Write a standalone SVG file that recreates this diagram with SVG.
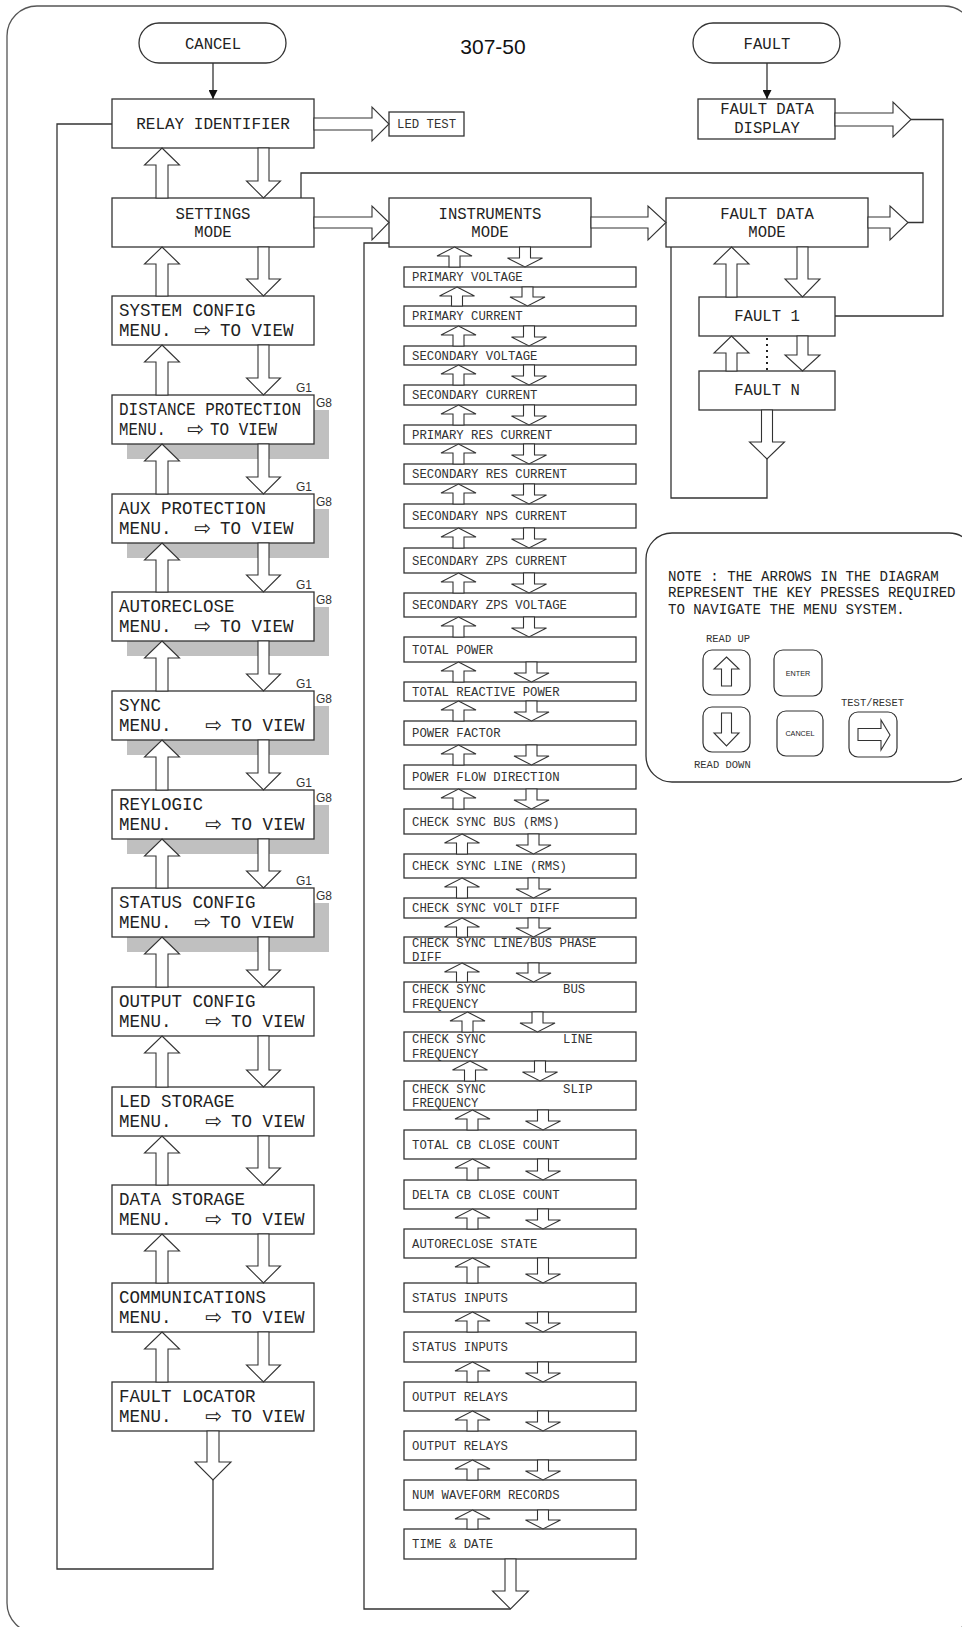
<svg xmlns="http://www.w3.org/2000/svg" width="962" height="1627" viewBox="0 0 962 1627">
<defs>
<style>
.b{fill:#fff;stroke:#333;stroke-width:1.3}
.sh{fill:#c0c0c0}
.a{fill:#fff;stroke:#333;stroke-width:1.1;stroke-linejoin:miter}
.ln{fill:none;stroke:#333;stroke-width:1.3}
.m{font-family:"Liberation Mono","DejaVu Sans Mono",monospace;fill:#222}
.big{font-size:17.5px}
.mid{font-size:15.6px}
.sm{font-size:12.3px;fill:#333}
.lab{font-size:10.5px;fill:#333}
.ar{font-family:"DejaVu Sans",sans-serif;font-size:20px;fill:#222}
.g{font-family:"Liberation Sans",Arial,sans-serif;font-size:12px;fill:#333}
.c{text-anchor:middle}
.key{font-family:"Liberation Sans",Arial,sans-serif;font-size:7.2px;fill:#222;text-anchor:middle}
</style>
<marker id="tri" viewBox="0 0 10 10" refX="10" refY="5" markerWidth="9" markerHeight="9" markerUnits="userSpaceOnUse" orient="auto"><path d="M0,0 L10,5 L0,10 z" fill="#111"/></marker>
</defs>
<rect x="7" y="6" width="967" height="1627" rx="30" fill="#fff" stroke="#555" stroke-width="1.3"/>
<text x="493" y="54" font-family="Liberation Sans,Arial,sans-serif" font-size="21" text-anchor="middle" fill="#111">307-50</text>

<g id="cancel"><rect class="b" x="139" y="23" width="147" height="40" rx="20"/><text class="m mid c" x="213" y="49">CANCEL</text></g>
<g id="fault"><rect class="b" x="693" y="23" width="147" height="40" rx="20"/><text class="m mid c" x="767" y="49">FAULT</text></g>
<g id="relay-identifier"><rect class="b" x="112" y="99" width="202" height="49"/><text class="m c" font-size="16" x="213" y="129">RELAY IDENTIFIER</text></g>
<g id="led-test"><rect class="b" x="389" y="112" width="75" height="24"/><text class="m sm" x="397" y="128">LED TEST</text></g>
<g id="settings-mode"><rect class="b" x="112" y="198" width="202" height="49"/><text class="m mid c" x="213" y="219">SETTINGS</text><text class="m mid c" x="213" y="237">MODE</text></g>
<g id="instruments-mode"><rect class="b" x="389" y="198" width="202" height="49"/><text class="m mid c" x="490" y="219">INSTRUMENTS</text><text class="m mid c" x="490" y="237">MODE</text></g>
<g id="fault-data-mode"><rect class="b" x="666" y="198" width="202" height="49"/><text class="m mid c" x="767" y="219">FAULT DATA</text><text class="m mid c" x="767" y="237">MODE</text></g>
<g id="fault-data-display"><rect class="b" x="698" y="99" width="137" height="40"/><text class="m mid c" x="767" y="114">FAULT DATA</text><text class="m mid c" x="767" y="133">DISPLAY</text></g>
<g id="fault-1"><rect class="b" x="699" y="297" width="136" height="39"/><text class="m mid c" x="767" y="321">FAULT 1</text></g>
<g id="fault-n"><rect class="b" x="699" y="371" width="136" height="39"/><text class="m mid c" x="767" y="395">FAULT N</text></g>

<g id="system-config"><rect class="b" x="112" y="296" width="202" height="49"/><text class="m big" x="119" y="315.5">SYSTEM CONFIG</text><text class="m big" x="119" y="336">MENU.</text><text class="ar" x="194" y="337">⇨</text><text class="m big" x="220" y="336">TO VIEW</text></g>
<g id="distance-protection"><rect class="sh" x="127" y="410" width="202" height="49"/><rect class="b" x="112" y="395" width="202" height="49"/><text class="g" x="296" y="392">G1</text><text class="g" x="316" y="407">G8</text><text class="m big" x="119" y="414.5" textLength="182" lengthAdjust="spacingAndGlyphs">DISTANCE PROTECTION</text><text class="m big" x="119" y="435" textLength="47" lengthAdjust="spacingAndGlyphs">MENU.</text><text class="ar" x="187" y="436">⇨</text><text class="m big" x="210" y="435" textLength="67" lengthAdjust="spacingAndGlyphs">TO VIEW</text></g>
<g id="aux-protection"><rect class="sh" x="127" y="509" width="202" height="49"/><rect class="b" x="112" y="494" width="202" height="49"/><text class="g" x="296" y="491">G1</text><text class="g" x="316" y="506">G8</text><text class="m big" x="119" y="513.5">AUX PROTECTION</text><text class="m big" x="119" y="534">MENU.</text><text class="ar" x="194" y="535">⇨</text><text class="m big" x="220" y="534">TO VIEW</text></g>
<g id="autoreclose"><rect class="sh" x="127" y="607" width="202" height="49"/><rect class="b" x="112" y="592" width="202" height="49"/><text class="g" x="296" y="589">G1</text><text class="g" x="316" y="604">G8</text><text class="m big" x="119" y="611.5">AUTORECLOSE</text><text class="m big" x="119" y="632">MENU.</text><text class="ar" x="194" y="633">⇨</text><text class="m big" x="220" y="632">TO VIEW</text></g>
<g id="sync"><rect class="sh" x="127" y="706" width="202" height="49"/><rect class="b" x="112" y="691" width="202" height="49"/><text class="g" x="296" y="688">G1</text><text class="g" x="316" y="703">G8</text><text class="m big" x="119" y="710.5">SYNC</text><text class="m big" x="119" y="731">MENU.</text><text class="ar" x="205" y="732">⇨</text><text class="m big" x="231" y="731">TO VIEW</text></g>
<g id="reylogic"><rect class="sh" x="127" y="805" width="202" height="49"/><rect class="b" x="112" y="790" width="202" height="49"/><text class="g" x="296" y="787">G1</text><text class="g" x="316" y="802">G8</text><text class="m big" x="119" y="809.5">REYLOGIC</text><text class="m big" x="119" y="830">MENU.</text><text class="ar" x="205" y="831">⇨</text><text class="m big" x="231" y="830">TO VIEW</text></g>
<g id="status-config"><rect class="sh" x="127" y="903" width="202" height="49"/><rect class="b" x="112" y="888" width="202" height="49"/><text class="g" x="296" y="885">G1</text><text class="g" x="316" y="900">G8</text><text class="m big" x="119" y="907.5">STATUS CONFIG</text><text class="m big" x="119" y="928">MENU.</text><text class="ar" x="194" y="929">⇨</text><text class="m big" x="220" y="928">TO VIEW</text></g>
<g id="output-config"><rect class="b" x="112" y="987" width="202" height="49"/><text class="m big" x="119" y="1006.5">OUTPUT CONFIG</text><text class="m big" x="119" y="1027">MENU.</text><text class="ar" x="205" y="1028">⇨</text><text class="m big" x="231" y="1027">TO VIEW</text></g>
<g id="led-storage"><rect class="b" x="112" y="1087" width="202" height="49"/><text class="m big" x="119" y="1106.5">LED STORAGE</text><text class="m big" x="119" y="1127">MENU.</text><text class="ar" x="205" y="1128">⇨</text><text class="m big" x="231" y="1127">TO VIEW</text></g>
<g id="data-storage"><rect class="b" x="112" y="1185" width="202" height="49"/><text class="m big" x="119" y="1204.5">DATA STORAGE</text><text class="m big" x="119" y="1225">MENU.</text><text class="ar" x="205" y="1226">⇨</text><text class="m big" x="231" y="1225">TO VIEW</text></g>
<g id="communications"><rect class="b" x="112" y="1283" width="202" height="49"/><text class="m big" x="119" y="1302.5">COMMUNICATIONS</text><text class="m big" x="119" y="1323">MENU.</text><text class="ar" x="205" y="1324">⇨</text><text class="m big" x="231" y="1323">TO VIEW</text></g>
<g id="fault-locator"><rect class="b" x="112" y="1382" width="202" height="49"/><text class="m big" x="119" y="1401.5">FAULT LOCATOR</text><text class="m big" x="119" y="1422">MENU.</text><text class="ar" x="205" y="1423">⇨</text><text class="m big" x="231" y="1422">TO VIEW</text></g>

<g id="instrument-items">
<g id="i-pv"><rect class="b" x="404" y="267" width="232" height="20"/><text class="m sm" x="412" y="281">PRIMARY VOLTAGE</text></g>
<g id="i-pc"><rect class="b" x="404" y="306" width="232" height="20"/><text class="m sm" x="412" y="320">PRIMARY CURRENT</text></g>
<g id="i-sv"><rect class="b" x="404" y="346" width="232" height="19"/><text class="m sm" x="412" y="359.5">SECONDARY VOLTAGE</text></g>
<g id="i-sc"><rect class="b" x="404" y="385" width="232" height="20"/><text class="m sm" x="412" y="399">SECONDARY CURRENT</text></g>
<g id="i-prc"><rect class="b" x="404" y="425" width="232" height="19"/><text class="m sm" x="412" y="438.5">PRIMARY RES CURRENT</text></g>
<g id="i-src"><rect class="b" x="404" y="464" width="232" height="20"/><text class="m sm" x="412" y="478">SECONDARY RES CURRENT</text></g>
<g id="i-snps"><rect class="b" x="404" y="504" width="232" height="24"/><text class="m sm" x="412" y="520">SECONDARY NPS CURRENT</text></g>
<g id="i-szpc"><rect class="b" x="404" y="548" width="232" height="25"/><text class="m sm" x="412" y="564.5">SECONDARY ZPS CURRENT</text></g>
<g id="i-szpv"><rect class="b" x="404" y="593" width="232" height="24"/><text class="m sm" x="412" y="609">SECONDARY ZPS VOLTAGE</text></g>
<g id="i-tp"><rect class="b" x="404" y="637" width="232" height="25"/><text class="m sm" x="412" y="653.5">TOTAL POWER</text></g>
<g id="i-trp"><rect class="b" x="404" y="682" width="232" height="19"/><text class="m sm" x="412" y="695.5">TOTAL REACTIVE POWER</text></g>
<g id="i-pf"><rect class="b" x="404" y="721" width="232" height="24"/><text class="m sm" x="412" y="737">POWER FACTOR</text></g>
<g id="i-pfd"><rect class="b" x="404" y="765" width="232" height="24"/><text class="m sm" x="412" y="781">POWER FLOW DIRECTION</text></g>
<g id="i-csb"><rect class="b" x="404" y="809" width="232" height="25"/><text class="m sm" x="412" y="825.5">CHECK SYNC BUS (RMS)</text></g>
<g id="i-csl"><rect class="b" x="404" y="854" width="232" height="24"/><text class="m sm" x="412" y="870">CHECK SYNC LINE (RMS)</text></g>
<g id="i-csvd"><rect class="b" x="404" y="898" width="232" height="20"/><text class="m sm" x="412" y="912">CHECK SYNC VOLT DIFF</text></g>
<g id="i-cspd"><rect class="b" x="404" y="937" width="232" height="26"/><text class="m sm" x="412" y="947">CHECK SYNC LINE/BUS PHASE</text><text class="m sm" x="412" y="961">DIFF</text></g>
<g id="i-csbf"><rect class="b" x="404" y="982" width="232" height="30"/><text class="m sm" x="412" y="993">CHECK SYNC</text><text class="m sm" x="563" y="993">BUS</text><text class="m sm" x="412" y="1008">FREQUENCY</text></g>
<g id="i-cslf"><rect class="b" x="404" y="1032" width="232" height="29"/><text class="m sm" x="412" y="1043">CHECK SYNC</text><text class="m sm" x="563" y="1043">LINE</text><text class="m sm" x="412" y="1057.5">FREQUENCY</text></g>
<g id="i-cssf"><rect class="b" x="404" y="1081" width="232" height="29"/><text class="m sm" x="412" y="1092.5">CHECK SYNC</text><text class="m sm" x="563" y="1092.5">SLIP</text><text class="m sm" x="412" y="1107">FREQUENCY</text></g>
<g id="i-tcb"><rect class="b" x="404" y="1130" width="232" height="29"/><text class="m sm" x="412" y="1148.5">TOTAL CB CLOSE COUNT</text></g>
<g id="i-dcb"><rect class="b" x="404" y="1180" width="232" height="29"/><text class="m sm" x="412" y="1198.5">DELTA CB CLOSE COUNT</text></g>
<g id="i-ars"><rect class="b" x="404" y="1229" width="232" height="29"/><text class="m sm" x="412" y="1247.5">AUTORECLOSE STATE</text></g>
<g id="i-si1"><rect class="b" x="404" y="1283" width="232" height="29"/><text class="m sm" x="412" y="1301.5">STATUS INPUTS</text></g>
<g id="i-si2"><rect class="b" x="404" y="1332" width="232" height="30"/><text class="m sm" x="412" y="1351">STATUS INPUTS</text></g>
<g id="i-or1"><rect class="b" x="404" y="1382" width="232" height="29"/><text class="m sm" x="412" y="1400.5">OUTPUT RELAYS</text></g>
<g id="i-or2"><rect class="b" x="404" y="1431" width="232" height="29"/><text class="m sm" x="412" y="1449.5">OUTPUT RELAYS</text></g>
<g id="i-nwr"><rect class="b" x="404" y="1480" width="232" height="30"/><text class="m sm" x="412" y="1499">NUM WAVEFORM RECORDS</text></g>
<g id="i-td"><rect class="b" x="404" y="1529" width="232" height="30"/><text class="m sm" x="412" y="1548">TIME &amp; DATE</text></g>
</g>

<g id="note">
<rect x="646" y="533" width="329" height="249" rx="26" fill="#fff" stroke="#333" stroke-width="1.3"/>
<text class="m" font-size="14.1" x="668" y="581">NOTE : THE ARROWS IN THE DIAGRAM</text>
<text class="m" font-size="14.1" x="668" y="597">REPRESENT THE KEY PRESSES REQUIRED</text>
<text class="m" font-size="14.1" x="668" y="614">TO NAVIGATE THE MENU SYSTEM.</text>
<text class="m lab" x="706" y="642">READ UP</text>
<text class="m lab" x="841" y="706">TEST/RESET</text>
<text class="m lab" x="694" y="768">READ DOWN</text>
<g id="key-up"><rect x="703" y="650" width="47" height="45" rx="9" fill="#fff" stroke="#333" stroke-width="1.2"/><polygon class="a" points="726.5,657 739,669 731.5,669 731.5,686 721.5,686 721.5,669 714,669"/></g>
<g id="key-enter"><rect x="774" y="650" width="48" height="46" rx="9" fill="#fff" stroke="#333" stroke-width="1.2"/><text class="key" x="798" y="676">ENTER</text></g>
<g id="key-down"><rect x="703" y="707" width="47" height="45" rx="9" fill="#fff" stroke="#333" stroke-width="1.2"/><polygon class="a" points="721.5,713 731.5,713 731.5,733 739,733 726.5,746 714,733 721.5,733"/></g>
<g id="key-cancel"><rect x="777" y="711" width="46" height="45" rx="9" fill="#fff" stroke="#333" stroke-width="1.2"/><text class="key" x="800" y="736">CANCEL</text></g>
<g id="key-test"><rect x="849" y="712" width="48" height="45" rx="9" fill="#fff" stroke="#333" stroke-width="1.2"/><polygon class="a" points="858,728.5 881,728.5 881,720 890,735 881,750 881,740.5 858,740.5"/></g>
</g>

<g id="connectors">
<line class="ln" x1="213" y1="63" x2="213" y2="99" marker-end="url(#tri)"/>
<line class="ln" x1="767" y1="63" x2="767" y2="99" marker-end="url(#tri)"/>
<path class="ln" d="M301,198 V173 H923 V222.5 H908"/>
<path class="ln" d="M911,119.5 H943 V316 H835"/>
<path class="ln" d="M767,459 V498 H671 V247"/>
<path class="ln" d="M213,1480 V1569 H57 V124 H112"/>
<path class="ln" d="M510.5,1609 H364 V243 H389"/>
<line x1="767" y1="338" x2="767" y2="371" stroke="#222" stroke-width="2" stroke-dasharray="2,4"/>

<polygon class="a" points="314,118 372,118 372,107 389,124 372,141 372,130 314,130"/>
<polygon class="a" points="314,217 372,217 372,206 389,222.5 372,240 372,228 314,228"/>
<polygon class="a" points="591,217 648,217 648,206 666,222.5 648,240 648,228 591,228"/>
<polygon class="a" points="868,217 890,217 890,206 908,222.5 890,240 890,228 868,228"/>
<polygon class="a" points="835,113 893,113 893,102 911,119.5 893,137 893,126 835,126"/>

<polygon class="a" points="731.5,247 749,264 737,264 737,297 726,297 726,264 714,264"/>
<polygon class="a" points="797,247 808,247 808,279 820,279 802.5,297 785,279 797,279"/>
<polygon class="a" points="731.5,336 749,353 737,353 737,371 726,371 726,353 714,353"/>
<polygon class="a" points="797,336 808,336 808,355 820,355 802.5,371 785,355 797,355"/>
<polygon class="a" points="761.5,410 772.5,410 772.5,442 784.5,442 767,459 749.5,442 761.5,442"/>

<polygon class="a" points="162,148 179.5,165 168,165 168,198 156,198 156,165 144.5,165"/>
<polygon class="a" points="258,148 269,148 269,181 280.5,181 263.5,198 246.5,181 258,181"/>
<polygon class="a" points="162,247 179.5,264 168,264 168,296 156,296 156,264 144.5,264"/>
<polygon class="a" points="258,247 269,247 269,279 280.5,279 263.5,296 246.5,279 258,279"/>
<polygon class="a" points="162,345 179.5,362 168,362 168,395 156,395 156,362 144.5,362"/>
<polygon class="a" points="258,345 269,345 269,378 280.5,378 263.5,395 246.5,378 258,378"/>
<polygon class="a" points="162,444 179.5,461 168,461 168,494 156,494 156,461 144.5,461"/>
<polygon class="a" points="258,444 269,444 269,477 280.5,477 263.5,494 246.5,477 258,477"/>
<polygon class="a" points="162,543 179.5,560 168,560 168,592 156,592 156,560 144.5,560"/>
<polygon class="a" points="258,543 269,543 269,575 280.5,575 263.5,592 246.5,575 258,575"/>
<polygon class="a" points="162,641 179.5,658 168,658 168,691 156,691 156,658 144.5,658"/>
<polygon class="a" points="258,641 269,641 269,674 280.5,674 263.5,691 246.5,674 258,674"/>
<polygon class="a" points="162,740 179.5,757 168,757 168,790 156,790 156,757 144.5,757"/>
<polygon class="a" points="258,740 269,740 269,773 280.5,773 263.5,790 246.5,773 258,773"/>
<polygon class="a" points="162,839 179.5,856 168,856 168,888 156,888 156,856 144.5,856"/>
<polygon class="a" points="258,839 269,839 269,871 280.5,871 263.5,888 246.5,871 258,871"/>
<polygon class="a" points="162,937 179.5,954 168,954 168,987 156,987 156,954 144.5,954"/>
<polygon class="a" points="258,937 269,937 269,970 280.5,970 263.5,987 246.5,970 258,970"/>
<polygon class="a" points="162,1036 179.5,1053 168,1053 168,1087 156,1087 156,1053 144.5,1053"/>
<polygon class="a" points="258,1036 269,1036 269,1070 280.5,1070 263.5,1087 246.5,1070 258,1070"/>
<polygon class="a" points="162,1136 179.5,1153 168,1153 168,1185 156,1185 156,1153 144.5,1153"/>
<polygon class="a" points="258,1136 269,1136 269,1168 280.5,1168 263.5,1185 246.5,1168 258,1168"/>
<polygon class="a" points="162,1234 179.5,1251 168,1251 168,1283 156,1283 156,1251 144.5,1251"/>
<polygon class="a" points="258,1234 269,1234 269,1266 280.5,1266 263.5,1283 246.5,1266 258,1266"/>
<polygon class="a" points="162,1332 179.5,1349 168,1349 168,1382 156,1382 156,1349 144.5,1349"/>
<polygon class="a" points="258,1332 269,1332 269,1365 280.5,1365 263.5,1382 246.5,1365 258,1365"/>
<polygon class="a" points="207,1431 219,1431 219,1462 231,1462 213,1480 195,1462 207,1462"/>

<polygon class="a" points="454.5,247 472,256 460,256 460,267 449,267 449,256 437,256"/>
<polygon class="a" points="519.5,247 530.5,247 530.5,258 542.5,258 525,267 507.5,258 519.5,258"/>
<polygon class="a" points="457,287 474.5,296 462.5,296 462.5,306 451.5,306 451.5,296 439.5,296"/>
<polygon class="a" points="522,287 533,287 533,297 545,297 527.5,306 510,297 522,297"/>
<polygon class="a" points="458.5,326 476,335 464,335 464,346 453,346 453,335 441,335"/>
<polygon class="a" points="523.5,326 534.5,326 534.5,337 546.5,337 529,346 511.5,337 523.5,337"/>
<polygon class="a" points="458.5,365 476,374 464,374 464,385 453,385 453,374 441,374"/>
<polygon class="a" points="523.5,365 534.5,365 534.5,376 546.5,376 529,385 511.5,376 523.5,376"/>
<polygon class="a" points="458.5,405 476,414 464,414 464,425 453,425 453,414 441,414"/>
<polygon class="a" points="523.5,405 534.5,405 534.5,416 546.5,416 529,425 511.5,416 523.5,416"/>
<polygon class="a" points="458.5,444 476,453 464,453 464,464 453,464 453,453 441,453"/>
<polygon class="a" points="523.5,444 534.5,444 534.5,455 546.5,455 529,464 511.5,455 523.5,455"/>
<polygon class="a" points="458.5,484 476,493 464,493 464,504 453,504 453,493 441,493"/>
<polygon class="a" points="523.5,484 534.5,484 534.5,495 546.5,495 529,504 511.5,495 523.5,495"/>
<polygon class="a" points="458.5,528 476,537 464,537 464,548 453,548 453,537 441,537"/>
<polygon class="a" points="523.5,528 534.5,528 534.5,539 546.5,539 529,548 511.5,539 523.5,539"/>
<polygon class="a" points="458.5,573 476,582 464,582 464,593 453,593 453,582 441,582"/>
<polygon class="a" points="523.5,573 534.5,573 534.5,584 546.5,584 529,593 511.5,584 523.5,584"/>
<polygon class="a" points="458.5,617 476,626 464,626 464,637 453,637 453,626 441,626"/>
<polygon class="a" points="523.5,617 534.5,617 534.5,628 546.5,628 529,637 511.5,628 523.5,628"/>
<polygon class="a" points="458.5,662 476,671 464,671 464,682 453,682 453,671 441,671"/>
<polygon class="a" points="526,662 537,662 537,673 549,673 531.5,682 514,673 526,673"/>
<polygon class="a" points="458.5,701 476,710 464,710 464,721 453,721 453,710 441,710"/>
<polygon class="a" points="526,701 537,701 537,712 549,712 531.5,721 514,712 526,712"/>
<polygon class="a" points="458.5,745 476,754 464,754 464,765 453,765 453,754 441,754"/>
<polygon class="a" points="526,745 537,745 537,756 549,756 531.5,765 514,756 526,756"/>
<polygon class="a" points="458.5,789 476,798 464,798 464,809 453,809 453,798 441,798"/>
<polygon class="a" points="526,789 537,789 537,800 549,800 531.5,809 514,800 526,800"/>
<polygon class="a" points="462,834 479.5,843 467.5,843 467.5,854 456.5,854 456.5,843 444.5,843"/>
<polygon class="a" points="528,834 539,834 539,845 551,845 533.5,854 516,845 528,845"/>
<polygon class="a" points="462,878 479.5,887 467.5,887 467.5,898 456.5,898 456.5,887 444.5,887"/>
<polygon class="a" points="528,878 539,878 539,889 551,889 533.5,898 516,889 528,889"/>
<polygon class="a" points="462,918 479.5,927 467.5,927 467.5,937 456.5,937 456.5,927 444.5,927"/>
<polygon class="a" points="528,918 539,918 539,928 551,928 533.5,937 516,928 528,928"/>
<polygon class="a" points="462,963 479.5,972 467.5,972 467.5,982 456.5,982 456.5,972 444.5,972"/>
<polygon class="a" points="528,963 539,963 539,973 551,973 533.5,982 516,973 528,973"/>
<polygon class="a" points="467.5,1012 485,1021 473,1021 473,1032 462,1032 462,1021 450,1021"/>
<polygon class="a" points="532,1012 543,1012 543,1023 555,1023 537.5,1032 520,1023 532,1023"/>
<polygon class="a" points="470,1061 487.5,1070 475.5,1070 475.5,1081 464.5,1081 464.5,1070 452.5,1070"/>
<polygon class="a" points="534.5,1061 545.5,1061 545.5,1072 557.5,1072 540,1081 522.5,1072 534.5,1072"/>
<polygon class="a" points="472.5,1110 490,1119 478,1119 478,1130 467,1130 467,1119 455,1119"/>
<polygon class="a" points="537.5,1110 548.5,1110 548.5,1121 560.5,1121 543,1130 525.5,1121 537.5,1121"/>
<polygon class="a" points="472.5,1159 490,1168 478,1168 478,1180 467,1180 467,1168 455,1168"/>
<polygon class="a" points="537.5,1159 548.5,1159 548.5,1171 560.5,1171 543,1180 525.5,1171 537.5,1171"/>
<polygon class="a" points="472.5,1209 490,1218 478,1218 478,1229 467,1229 467,1218 455,1218"/>
<polygon class="a" points="537.5,1209 548.5,1209 548.5,1220 560.5,1220 543,1229 525.5,1220 537.5,1220"/>
<polygon class="a" points="472.5,1258 490,1267 478,1267 478,1283 467,1283 467,1267 455,1267"/>
<polygon class="a" points="537.5,1258 548.5,1258 548.5,1274 560.5,1274 543,1283 525.5,1274 537.5,1274"/>
<polygon class="a" points="472.5,1312 490,1321 478,1321 478,1332 467,1332 467,1321 455,1321"/>
<polygon class="a" points="537.5,1312 548.5,1312 548.5,1323 560.5,1323 543,1332 525.5,1323 537.5,1323"/>
<polygon class="a" points="472.5,1362 490,1371 478,1371 478,1382 467,1382 467,1371 455,1371"/>
<polygon class="a" points="537.5,1362 548.5,1362 548.5,1373 560.5,1373 543,1382 525.5,1373 537.5,1373"/>
<polygon class="a" points="472.5,1411 490,1420 478,1420 478,1431 467,1431 467,1420 455,1420"/>
<polygon class="a" points="537.5,1411 548.5,1411 548.5,1422 560.5,1422 543,1431 525.5,1422 537.5,1422"/>
<polygon class="a" points="472.5,1460 490,1469 478,1469 478,1480 467,1480 467,1469 455,1469"/>
<polygon class="a" points="537.5,1460 548.5,1460 548.5,1471 560.5,1471 543,1480 525.5,1471 537.5,1471"/>
<polygon class="a" points="472.5,1510 490,1519 478,1519 478,1529 467,1529 467,1519 455,1519"/>
<polygon class="a" points="537.5,1510 548.5,1510 548.5,1520 560.5,1520 543,1529 525.5,1520 537.5,1520"/>
<polygon class="a" points="505,1559 516,1559 516,1591 528.5,1591 510.5,1609 492.5,1591 505,1591"/>
</g>
</svg>
